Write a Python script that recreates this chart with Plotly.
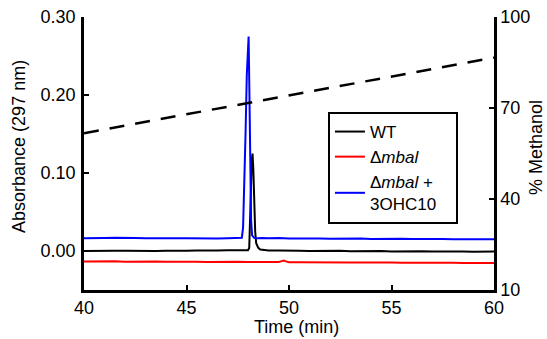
import plotly.graph_objects as go

# ---------------- data ----------------
t_wt = [40.0, 40.5, 41.0, 41.5, 42.0, 42.5, 43.0, 43.5, 44.0, 44.5, 45.0, 45.5,
        46.0, 46.5, 47.0, 47.5, 47.8, 48.0, 48.06, 48.1, 48.14, 48.18, 48.22,
        48.26, 48.3, 48.35, 48.4, 48.5, 48.6, 48.8, 49.0, 49.5, 50.0, 50.5,
        51.0, 51.5, 52.0, 52.5, 53.0, 53.5, 54.0, 54.5, 55.0, 55.5, 56.0,
        56.5, 57.0, 57.5, 58.0, 58.5, 59.0, 59.5, 60.0]
a_wt = [0.000, 0.0003, 0.0008, 0.0002, 0.0004, 0.0000, 0.0005, 0.0001, 0.0004,
        0.0000, 0.0004, 0.0008, 0.0002, 0.0005, 0.0009, 0.0006, 0.0004, 0.001,
        0.004, 0.030, 0.075, 0.115, 0.125, 0.105, 0.060, 0.025, 0.010, 0.004,
        0.002, 0.001, 0.0005, 0.0008, 0.0002, 0.0004, 0.0000, 0.0003, -0.0002,
        0.0002, -0.0003, 0.0001, -0.0004, 0.0000, -0.0005, -0.0002, -0.0006,
        -0.0003, -0.0007, -0.0004, -0.0008, -0.0005, -0.0009, -0.0007, -0.0008]

t_mbal = [40.0, 40.5, 41.0, 41.5, 42.0, 42.5, 43.0, 43.5, 44.0, 44.5, 45.0,
          45.5, 46.0, 46.5, 47.0, 47.5, 48.0, 48.5, 49.0, 49.5, 49.65, 49.75,
          49.85, 50.0, 50.5, 51.0, 51.5, 52.0, 52.5, 53.0, 53.5, 54.0, 54.5,
          55.0, 55.5, 56.0, 56.5, 57.0, 57.5, 58.0, 58.5, 59.0, 59.5, 60.0]
a_mbal = [-0.0135, -0.0132, -0.0136, -0.0133, -0.0137, -0.0134, -0.0138,
          -0.0135, -0.0138, -0.0136, -0.0139, -0.0137, -0.0140, -0.0138,
          -0.0141, -0.0139, -0.0142, -0.0141, -0.0143, -0.0141, -0.0130,
          -0.0122, -0.0133, -0.0143, -0.0145, -0.0144, -0.0147, -0.0145,
          -0.0148, -0.0146, -0.0149, -0.0147, -0.0150, -0.0148, -0.0151,
          -0.0150, -0.0152, -0.0151, -0.0153, -0.0152, -0.0155, -0.0153,
          -0.0156, -0.0155]

t_comp = [40.0, 40.5, 41.0, 41.5, 42.0, 42.5, 43.0, 43.5, 44.0, 44.5, 45.0,
          45.5, 46.0, 46.5, 47.0, 47.5, 47.7, 47.76, 47.82, 47.88, 47.94,
          48.0, 48.03, 48.07, 48.11, 48.15, 48.2, 48.3, 48.45, 48.7, 49.0,
          49.5, 50.0, 50.5, 51.0, 51.5, 52.0, 52.5, 53.0, 53.5, 54.0, 54.5,
          55.0, 55.5, 56.0, 56.5, 57.0, 57.5, 58.0, 58.5, 59.0, 59.5, 60.0]
a_comp = [0.0165, 0.0163, 0.0168, 0.0170, 0.0164, 0.0166, 0.0162, 0.0165,
          0.0161, 0.0164, 0.0162, 0.0160, 0.0163, 0.0161, 0.0164, 0.0162,
          0.0170, 0.030, 0.080, 0.150, 0.225, 0.270, 0.275, 0.200, 0.100,
          0.040, 0.020, 0.0168, 0.0162, 0.0168, 0.0162, 0.0166, 0.0160,
          0.0163, 0.0158, 0.0161, 0.0157, 0.0160, 0.0156, 0.0159, 0.0155,
          0.0158, 0.0154, 0.0157, 0.0153, 0.0156, 0.0152, 0.0155, 0.0151,
          0.0154, 0.0150, 0.0152, 0.0151]

t_grad = [40.0, 60.0]
methanol = [61.7, 86.6]

x_ticks = [40, 45, 50, 55, 60]
y_ticks = [0.0, 0.1, 0.2, 0.3]
y2_ticks = [10, 40, 70, 100]

x_title = "Time (min)"
y_title = "Absorbance (297 nm)"
y2_title = "% Methanol"
series_names = ["WT", "Δ<i>mbal</i>", "Δ<i>mbal</i> +<br>3OHC10"]

FONT = "Liberation Sans, Arial, sans-serif"
NB = "\u00a0"

fig = go.Figure()
fig.add_trace(go.Scatter(x=t_grad, y=methanol, mode="lines", yaxis="y2",
                         line=dict(color="black", width=2.5, dash="15px,11px"),
                         showlegend=False, hoverinfo="skip"))
fig.add_trace(go.Scatter(x=t_wt, y=a_wt, mode="lines", name=series_names[0],
                         line=dict(color="black", width=2)))
fig.add_trace(go.Scatter(x=t_mbal, y=a_mbal, mode="lines",
                         name=series_names[1],
                         line=dict(color="red", width=2)))
fig.add_trace(go.Scatter(x=t_comp, y=a_comp, mode="lines",
                         name=series_names[2] + NB * 3,
                         line=dict(color="blue", width=2)))

axis_common = dict(showgrid=False, zeroline=False, showline=True,
                   linecolor="black", linewidth=2.5, ticks="inside",
                   ticklen=5, tickwidth=2, tickcolor="black", automargin=False,
                   tickfont=dict(family=FONT, size=18, color="black"))

title_font = dict(family=FONT, size=18, color="black")

fig.update_layout(
    width=547, height=339,
    margin=dict(l=84, r=53, t=17, b=49),
    plot_bgcolor="white", paper_bgcolor="white",
    font=dict(family=FONT, color="black"),
    xaxis=dict(range=[40, 60], tickvals=x_ticks, **axis_common),
    yaxis=dict(range=[-0.05, 0.30], tickvals=y_ticks, tickformat=".2f",
               ticklabelstandoff=2, **axis_common),
    yaxis2=dict(range=[10, 100], tickvals=y2_ticks, overlaying="y",
                side="right", **axis_common),
    legend=dict(x=0.595, xanchor="left", y=0.652, yanchor="top",
                bgcolor="white", bordercolor="black", borderwidth=2,
                font=dict(family=FONT, size=17, color="black"),
                itemwidth=30, tracegroupgap=0),
    annotations=[
        dict(text=x_title, xref="paper", yref="paper", x=0.518, y=0,
             yshift=-37, xanchor="center", yanchor="middle",
             showarrow=False, font=title_font),
        dict(text=y_title, xref="paper", yref="paper", x=0, y=0.524,
             xshift=-65, xanchor="center", yanchor="middle", textangle=-90,
             showarrow=False, font=title_font),
        dict(text=y2_title, xref="paper", yref="paper", x=1, y=0.52,
             xshift=42, xanchor="center", yanchor="middle", textangle=-90,
             showarrow=False, font=title_font),
    ],
)

fig.write_html("out.html", config={"displayModeBar": False},
               post_script="document.body.style.margin='0';"
                           "document.body.style.padding='0';")
